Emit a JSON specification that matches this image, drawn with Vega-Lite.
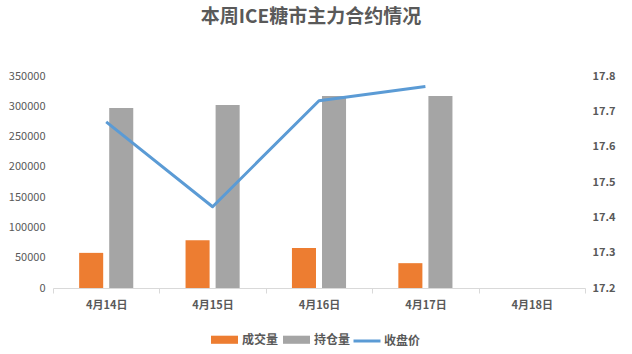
{
  "$schema": "https://vega.github.io/schema/vega-lite/v6.json",
  "width": 532,
  "height": 212,
  "autosize": {"type": "none"},
  "padding": {"left": 53, "top": 76, "right": 47, "bottom": 66},
  "title": {
    "text": "本周ICE糖市主力合约情况",
    "font": "Noto Sans CJK SC",
    "fontSize": 19,
    "fontWeight": "bold",
    "color": "#595959",
    "anchor": "middle",
    "dx": -8,
    "offset": 43
  },
  "datasets": {
    "bars": [
      {"date": "4月14日", "series": "成交量", "value": 58000},
      {"date": "4月14日", "series": "持仓量", "value": 297000},
      {"date": "4月15日", "series": "成交量", "value": 79000},
      {"date": "4月15日", "series": "持仓量", "value": 302000},
      {"date": "4月16日", "series": "成交量", "value": 66000},
      {"date": "4月16日", "series": "持仓量", "value": 317000},
      {"date": "4月17日", "series": "成交量", "value": 41000},
      {"date": "4月17日", "series": "持仓量", "value": 317000}
    ],
    "price": [
      {"date": "4月14日", "series": "收盘价", "price": 17.67},
      {"date": "4月15日", "series": "收盘价", "price": 17.43},
      {"date": "4月16日", "series": "收盘价", "price": 17.73},
      {"date": "4月17日", "series": "收盘价", "price": 17.77}
    ]
  },
  "layer": [
    {
      "data": {"name": "bars"},
      "mark": {"type": "bar"},
      "encoding": {
        "x": {
          "field": "date",
          "type": "ordinal",
          "sort": null,
          "scale": {"domain": ["4月14日", "4月15日", "4月16日", "4月17日", "4月18日"], "paddingInner": 0, "paddingOuter": 0},
          "axis": {
            "title": null,
            "labelAngle": 0,
            "domainColor": "#d9d9d9",
            "tickColor": "#d9d9d9",
            "tickBand": "extent",
            "tickSize": 5,
            "labelFontSize": 11,
            "labelFontWeight": "bold",
            "labelColor": "#595959",
            "labelPadding": 6,
            "grid": false
          }
        },
        "xOffset": {
          "field": "series",
          "type": "nominal",
          "sort": ["成交量", "持仓量"],
          "scale": {"paddingInner": 0.2, "paddingOuter": 0.87}
        },
        "y": {
          "field": "value",
          "type": "quantitative",
          "scale": {"domain": [0, 350000]},
          "axis": {
            "title": null,
            "values": [0, 50000, 100000, 150000, 200000, 250000, 300000, 350000],
            "format": "d",
            "domain": false,
            "ticks": false,
            "grid": false,
            "labelFontSize": 11,
            "labelColor": "#595959",
            "labelPadding": 8
          }
        },
        "color": {
          "field": "series",
          "type": "nominal",
          "scale": {"domain": ["成交量", "持仓量"], "range": ["#ed7d31", "#a5a5a5"]},
          "legend": {
            "title": null,
            "orient": "none",
            "legendX": 158,
            "legendY": 250,
            "direction": "horizontal",
            "symbolType": "M-1,-0.3H1V0.3H-1Z",
            "symbolSize": 729,
            "symbolStrokeWidth": 0,
            "symbolOpacity": 1,
            "labelFontSize": 12,
            "labelFontWeight": "bold",
            "labelColor": "#595959",
            "labelOffset": 4,
            "columnPadding": 4
          }
        }
      }
    },
    {
      "data": {"name": "price"},
      "mark": {"type": "line", "strokeWidth": 3, "strokeJoin": "round"},
      "encoding": {
        "x": {
          "field": "date",
          "type": "ordinal",
          "sort": null,
          "scale": {"domain": ["4月14日", "4月15日", "4月16日", "4月17日", "4月18日"], "paddingInner": 0, "paddingOuter": 0}
        },
        "y": {
          "field": "price",
          "type": "quantitative",
          "scale": {"domain": [17.2, 17.8], "zero": false},
          "axis": {
            "orient": "right",
            "title": null,
            "values": [17.2, 17.3, 17.4, 17.5, 17.6, 17.7, 17.8],
            "format": ".1f",
            "domain": false,
            "ticks": false,
            "grid": false,
            "labelFontSize": 11,
            "labelFontWeight": "bold",
            "labelColor": "#595959",
            "labelPadding": 7
          }
        },
        "stroke": {
          "field": "series",
          "type": "nominal",
          "scale": {"domain": ["收盘价"], "range": ["#5b9bd5"]},
          "legend": {
            "title": null,
            "orient": "none",
            "legendX": 299,
            "legendY": 250,
            "direction": "horizontal",
            "symbolType": "stroke",
            "symbolSize": 729,
            "symbolStrokeWidth": 3,
            "labelFontSize": 12,
            "labelFontWeight": "bold",
            "labelColor": "#595959",
            "labelOffset": 2
          }
        }
      }
    }
  ],
  "resolve": {"scale": {"y": "independent"}},
  "config": {
    "view": {"stroke": null},
    "font": "Noto Sans CJK SC",
    "axis": {"labelFont": "Noto Sans CJK SC"},
    "legend": {"labelFont": "Noto Sans CJK SC"}
  }
}
